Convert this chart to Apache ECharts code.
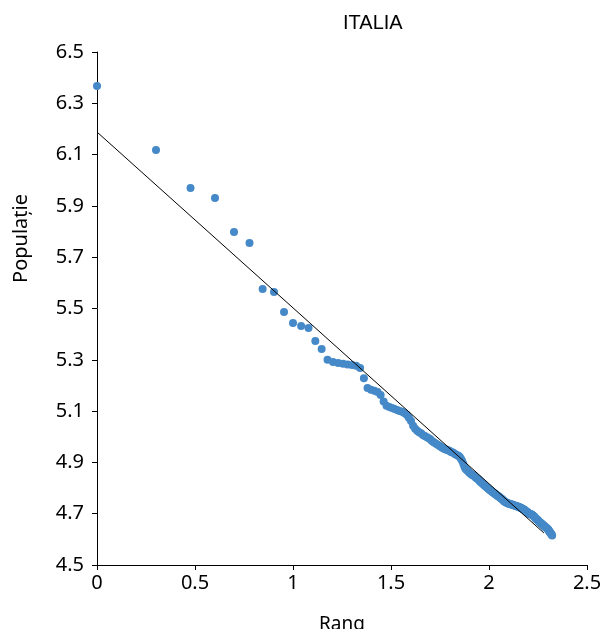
<!DOCTYPE html>
<html>
<head>
<meta charset="utf-8">
<script src="https://cdn.jsdelivr.net/npm/echarts@6/dist/echarts.min.js"></script>
<style>html,body{margin:0;padding:0;background:#fff;}#c{width:602px;height:629px;}</style>
</head>
<body>
<div id="c"></div>
<script>
// log10(population) of cities, ordered by rank 1..210 (x = log10(rank))
const popLog = [
6.367,6.118,5.970,5.931,5.798,5.755,5.576,5.564,5.486,5.443,
5.432,5.424,5.373,5.342,5.300,5.291,5.288,5.285,5.282,5.280,
5.277,5.268,5.228,5.190,5.183,5.179,5.174,5.163,5.137,5.121,
5.116,5.112,5.108,5.104,5.100,5.097,5.093,5.086,5.074,5.061,
5.043,5.031,5.023,5.018,5.014,5.007,5.003,4.999,4.995,4.991,
4.984,4.980,4.976,4.972,4.968,4.964,4.960,4.956,4.953,4.951,
4.948,4.947,4.944,4.941,4.940,4.937,4.933,4.930,4.928,4.925,
4.921,4.913,4.905,4.894,4.882,4.874,4.870,4.866,4.862,4.858,
4.855,4.851,4.850,4.847,4.843,4.839,4.837,4.834,4.830,4.826,
4.823,4.820,4.817,4.813,4.810,4.807,4.804,4.801,4.798,4.795,
4.792,4.790,4.788,4.785,4.783,4.781,4.778,4.776,4.773,4.771,
4.769,4.767,4.765,4.762,4.760,4.758,4.755,4.753,4.750,4.748,
4.746,4.745,4.743,4.742,4.740,4.740,4.739,4.738,4.737,4.736,
4.736,4.735,4.734,4.733,4.732,4.731,4.730,4.729,4.729,4.728,
4.727,4.726,4.725,4.724,4.723,4.722,4.720,4.719,4.718,4.717,
4.715,4.714,4.712,4.711,4.709,4.708,4.706,4.704,4.703,4.701,
4.700,4.699,4.698,4.698,4.697,4.695,4.694,4.692,4.690,4.689,
4.686,4.684,4.681,4.679,4.678,4.677,4.675,4.673,4.672,4.670,
4.668,4.666,4.665,4.663,4.662,4.660,4.658,4.657,4.655,4.654,
4.652,4.650,4.649,4.647,4.646,4.645,4.643,4.642,4.640,4.639,
4.636,4.634,4.632,4.629,4.627,4.625,4.623,4.620,4.618,4.615
];
// trend line end points
const fitX = [0, 2.28];
const fitY = [6.188, 4.625];
// axis settings
const xTicks = [0, 0.5, 1, 1.5, 2, 2.5];
const yMin = 4.5, yMax = 6.5, yStep = 0.2;

const pts = popLog.map((v, i) => [Math.log10(i + 1), v - yMin]);
const fit = fitX.map((x, i) => [x, fitY[i] - yMin]);

const font = 'Noto Sans';
const chart = echarts.init(document.getElementById('c'), null, {renderer: 'canvas'});
chart.setOption({
  animation: false,
  backgroundColor: '#fff',
  title: {
    text: 'ITALIA', left: 338, top: 8,
    textStyle: {fontFamily: 'Liberation Sans', fontSize: 20, fontWeight: 'normal', color: '#000'}
  },
  grid: {left: 97, right: 15, top: 52, bottom: 64, containLabel: false, outerBoundsMode: 'none'},
  xAxis: {
    type: 'value', min: xTicks[0], max: xTicks[xTicks.length - 1], interval: 0.5,
    name: 'Rang', nameLocation: 'middle', nameGap: 50,
    nameTextStyle: {fontFamily: font, fontSize: 19, color: '#000'},
    splitLine: {show: false},
    axisLine: {lineStyle: {color: '#000', width: 1}},
    axisTick: {length: 5, lineStyle: {color: '#000'}},
    axisLabel: {fontFamily: font, fontSize: 20, color: '#000', margin: 8}
  },
  yAxis: {
    type: 'value', min: 0, max: yMax - yMin, interval: yStep,
    splitLine: {show: false},
    axisLine: {show: true, lineStyle: {color: '#000', width: 1}},
    axisTick: {show: true, length: 5, lineStyle: {color: '#000'}},
    axisLabel: {fontFamily: font, fontSize: 20, color: '#000', margin: 13,
      formatter: v => (v + yMin).toFixed(1)}
  },
  graphic: [{
    type: 'text', left: 11, top: 194, rotation: Math.PI / 2,
    style: {text: 'Populație', fontFamily: font, fontSize: 20, fill: '#000'}
  }],
  series: [
    {type: 'scatter', data: pts, symbolSize: 8, itemStyle: {color: '#4589C8', opacity: 1}, z: 2},
    {type: 'line', data: fit, symbol: 'none', lineStyle: {color: '#000', width: 1}, z: 3}
  ]
});
</script>
</body>
</html>
